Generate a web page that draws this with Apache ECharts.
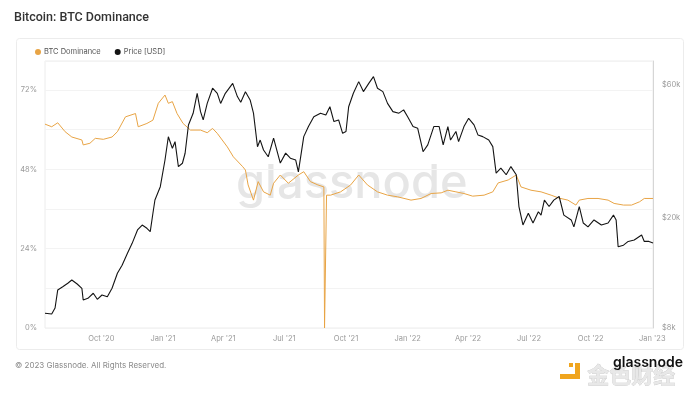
<!DOCTYPE html>
<html lang="en">
<head>
<meta charset="UTF-8">
<title>Bitcoin: BTC Dominance</title>
<style>
  html, body { margin: 0; padding: 0; background: #fff; }
  #main { width: 692px; height: 400px; }
</style>
</head>
<body>
<div id="main"></div>
<script src="https://cdn.jsdelivr.net/npm/echarts@6/dist/echarts.min.js"></script>
<script>
// all series are given as day offsets from startDate
var startDate = '2020-07-09';
var endDate = '2023-01-02';

var domDays = [0, 10, 19, 30, 40, 55, 57, 67, 75, 87, 100, 108, 120, 135, 139, 152, 161, 169, 179, 184,
  190, 197, 206, 217, 232, 242, 250, 257, 272, 281, 295, 299, 303, 311, 318, 326, 336, 341, 351, 363,
  378, 386, 396, 407, 416, 417, 420, 426, 441, 456, 468, 481, 496, 511, 526, 546, 561, 576, 591, 601,
  613, 625, 638, 655, 668, 676, 691, 703, 710, 725, 740, 755, 767, 780, 792, 797, 810, 825, 840, 849,
  863, 875, 887, 894, 907];
var domValues = [61.7, 60.9, 62.1, 59.4, 57.8, 56.9, 55.4, 55.9, 57.4, 57.1, 57.8, 59.4, 63.9, 64.9, 60.9, 61.9, 62.9, 68.0, 70.5, 68.0,
  68.5, 64.9, 61.9, 59.9, 59.9, 59.1, 60.4, 58.9, 54.8, 51.8, 48.8, 47.8, 43.3, 38.7, 44.3, 41.2, 40.2, 43.8, 46.3, 43.8,
  46.3, 47.3, 44.3, 43.3, 42.7, 0, 40.2, 40.2, 41.2, 43.3, 46.3, 43.3, 41.2, 40.2, 39.7, 38.7, 39.2, 40.7, 40.9, 41.7,
  41.2, 40.7, 39.9, 40.2, 41.2, 43.9, 44.8, 46.3, 42.7, 41.7, 41.2, 40.2, 39.3, 38.7, 37.2, 38.7, 39.2, 39.2, 38.7, 37.7,
  37.2, 37.2, 38.2, 39.2, 39.2];

var priceDays = [0, 10, 15, 19, 27, 34, 40, 48, 55, 57, 64, 72, 78, 85, 93, 100, 108, 115, 123, 130,
  138, 145, 152, 157, 161, 164, 172, 179, 184, 190, 194, 199, 205, 209, 214, 221, 227, 232, 236, 242,
  250, 257, 262, 269, 280, 287, 292, 299, 306, 311, 317, 321, 326, 333, 341, 347, 351, 359, 366, 374,
  378, 386, 393, 401, 411, 419, 425, 431, 438, 444, 449, 453, 460, 468, 475, 483, 490, 496, 504, 511,
  519, 528, 535, 541, 549, 556, 564, 571, 580, 588, 594, 601, 605, 613, 617, 625, 632, 640, 646, 653,
  662, 668, 673, 680, 688, 695, 703, 707, 713, 721, 728, 736, 740, 745, 752, 759, 767, 774, 785, 789,
  797, 803, 810, 819, 830, 840, 848, 852, 855, 863, 870, 879, 890, 894, 901, 907];
var priceValues = [9040, 8980, 9440, 10970, 11280, 11590, 11910, 11520, 11120, 10090, 10230, 10670, 10150, 10520, 10370, 11120, 12590, 13470, 14860, 16140,
  18030, 18790, 18290, 17790, 20710, 23120, 25820, 32210, 39070, 35490, 37500, 30470, 31360, 34070, 43070, 47450, 56000, 48100, 44900, 51500,
  58400, 56000, 51500, 56000, 60800, 54500, 52000, 56700, 53000, 47500, 35970, 38000, 34990, 33100, 38600, 34100, 31400, 34100, 32700, 32200,
  29200, 39100, 42500, 46100, 47500, 46800, 50100, 44300, 44900, 40200, 40800, 50100, 56000, 61700, 56800, 60800, 64300, 58400, 56800, 51500,
  48100, 47500, 48800, 46100, 42500, 41900, 34500, 36500, 42500, 42500, 36500, 42500, 38000, 40800, 37500, 42500, 45500, 43100, 39600, 39100,
  38000, 36000, 28900, 30100, 28500, 30500, 28500, 21900, 18800, 20700, 19100, 20980, 20400, 23100, 21900, 23100, 23800, 20400, 19600, 18500,
  21900, 19100, 18500, 19600, 18800, 19100, 20400, 19600, 15700, 15900, 16400, 16600, 17300, 16400, 16400, 16200];

var xTickDates = ['2020-10-01', '2021-01-01', '2021-04-01', '2021-07-01', '2021-10-01',
  '2022-01-01', '2022-04-01', '2022-07-01', '2022-10-01', '2023-01-01'];
var xTickLabels = ["Oct '20", "Jan '21", "Apr '21", "Jul '21", "Oct '21",
  "Jan '22", "Apr '22", "Jul '22", "Oct '22", "Jan '23"];
var domTicks = [0, 24, 48, 72];
var priceTicks = [8000, 20000, 60000];
var priceTickLabels = ['$8k', '$20k', '$60k'];

var DAY = 86400000;
function toTime(s) { return new Date(s + 'T00:00:00Z').getTime(); }
var t0 = toTime(startDate);
var xTickTimes = xTickDates.map(toTime);

var domData = domDays.map(function (d, i) { return [t0 + d * DAY, domValues[i]]; });
var priceData = priceDays.map(function (d, i) { return [t0 + d * DAY, priceValues[i]]; });

var orange = '#e8a445';
var black = '#141414';
var axisText = { color: '#9a9a9a', fontSize: 7.5, fontFamily: 'Inter' };

var chart = echarts.init(document.getElementById('main'));
chart.setOption({
  animation: false,
  textStyle: { fontFamily: 'Inter' },
  title: {
    text: 'Bitcoin: BTC Dominance',
    left: 9, top: 6,
    textStyle: { fontSize: 12.5, fontWeight: 500, color: '#333', fontFamily: 'Roboto' }
  },
  legend: {
    left: 30, top: 43,
    icon: 'circle', itemWidth: 6, itemHeight: 6, itemGap: 14,
    textStyle: { fontSize: 7.5, color: '#555', fontFamily: 'Inter', padding: [0, 0, 0, -2] },
    data: ['BTC Dominance', 'Price [USD]']
  },
  graphic: [
    { type: 'rect', z: -20, shape: { x: 16.5, y: 38.5, width: 667, height: 311, r: 3 },
      style: { fill: 'none', stroke: '#ececec', lineWidth: 1 } },
    { type: 'text', z: -10, left: 236, top: 160,
      style: { text: 'glassnode', fontSize: 47, fontWeight: 500, fontFamily: 'Inter', fill: '#e6e6e6' } },
    { type: 'text', left: 15, top: 362,
      style: { text: '\u00a9 2023 Glassnode. All Rights Reserved.', fontSize: 8, fontFamily: 'Inter', fill: '#8a8a8a' } },
    { type: 'rect', shape: { x: 569, y: 363, width: 4, height: 4 }, style: { fill: '#f0a51e' } },
    { type: 'polygon', shape: { points: [[575, 363], [580, 363], [580, 379], [560, 379], [560, 374], [575, 374]] },
      style: { fill: '#f0a51e' } },
    { type: 'text', left: 587, top: 363,
      style: { text: '金色财经', fontSize: 22, fontWeight: 700, fontFamily: 'Noto Sans CJK SC',
        fill: '#e8e8e8', stroke: '#c6c6c6', lineWidth: 0.6 } },
    { type: 'text', left: 613, top: 356,
      style: { text: 'glassnode', fontSize: 14, fontWeight: 600, fontFamily: 'Inter', fill: '#111' } }
  ],
  grid: {
    left: 45, right: 39, top: 61, bottom: 72,
    show: true, borderColor: '#ececec', borderWidth: 1
  },
  xAxis: {
    type: 'value',
    min: t0, max: toTime(endDate),
    axisLine: { show: false },
    axisTick: { show: false },
    splitLine: { show: false },
    axisLabel: Object.assign({
      customValues: xTickTimes,
      margin: 7,
      formatter: function (v) {
        var i = xTickTimes.indexOf(v);
        return i >= 0 ? xTickLabels[i] : '';
      }
    }, axisText)
  },
  yAxis: [{
    type: 'value',
    position: 'left',
    min: 0, max: 80.8, interval: 12,
    axisLine: { show: false },
    axisTick: { show: false },
    splitLine: { lineStyle: { color: '#f3f3f3', width: 1 } },
    axisLabel: Object.assign({
      margin: 8,
      showMaxLabel: false,
      formatter: function (v) { return domTicks.indexOf(v) >= 0 ? v + '%' : ''; }
    }, axisText)
  }, {
    type: 'log',
    position: 'right',
    min: 8000, max: 73200,
    axisLine: { show: true, lineStyle: { color: '#d6d6d6' } },
    axisTick: { show: false },
    splitLine: { show: false },
    axisLabel: Object.assign({
      customValues: priceTicks,
      margin: 9,
      formatter: function (v) {
        var i = priceTicks.indexOf(v);
        return i >= 0 ? priceTickLabels[i] : '';
      }
    }, axisText)
  }],
  series: [{
    name: 'BTC Dominance',
    type: 'line',
    yAxisIndex: 0,
    data: domData,
    showSymbol: false,
    color: orange,
    lineStyle: { width: 1, color: orange },
    z: 3
  }, {
    name: 'Price [USD]',
    type: 'line',
    yAxisIndex: 1,
    data: priceData,
    showSymbol: false,
    color: black,
    lineStyle: { width: 1.1, color: black },
    z: 4
  }]
});
</script>
</body>
</html>
